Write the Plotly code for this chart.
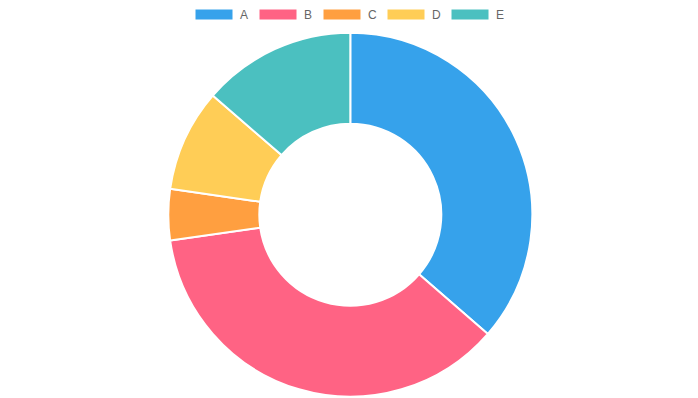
import plotly.graph_objects as go

labels = ["A", "B", "C", "D", "E"]
values = [40, 40, 5, 10, 15]
colors = ["rgb(54,162,235)", "rgb(255,99,132)", "rgb(255,159,64)",
          "rgb(255,205,86)", "rgb(75,192,192)"]

W, H = 698, 398
OFF = 8  # page body margin offset

cx, r = 350.3 - OFF, 182.2
top, bot = 32.7 - OFF, 396.7 - OFF

fig = go.Figure(go.Pie(
    labels=labels, values=values, hole=0.5, sort=False,
    direction="clockwise", rotation=0,
    marker=dict(colors=colors, line=dict(color="white", width=2)),
    textinfo="none", showlegend=False,
    domain=dict(x=[(cx - r) / W, (cx + r) / W], y=[(H - bot) / H, (H - top) / H]),
))

# Custom Chart.js-style legend (wide colour boxes) built from the labels
shapes, annots = [], []
x0, step, bw = 195 - OFF, 64, 38
for i, (lab, col) in enumerate(zip(labels, colors)):
    bx = x0 + i * step
    shapes.append(dict(type="rect", xref="paper", yref="paper",
                       x0=bx / W, x1=(bx + bw) / W,
                       y0=1 - (20 - OFF) / H, y1=1 - (9 - OFF) / H,
                       fillcolor=col, line=dict(color="white", width=1)))
    annots.append(dict(x=(bx + bw + 5) / W, y=1 - (14.5 - OFF) / H, xref="paper", yref="paper",
                       text=lab, showarrow=False, xanchor="left", yanchor="middle",
                       font=dict(family="Liberation Sans, Arial, sans-serif", size=12, color="#666")))

fig.update_layout(
    width=W, height=H, margin=dict(l=0, r=0, t=0, b=0),
    paper_bgcolor="white", plot_bgcolor="white",
    shapes=shapes, annotations=annots,
)
fig.write_html("out.html")
